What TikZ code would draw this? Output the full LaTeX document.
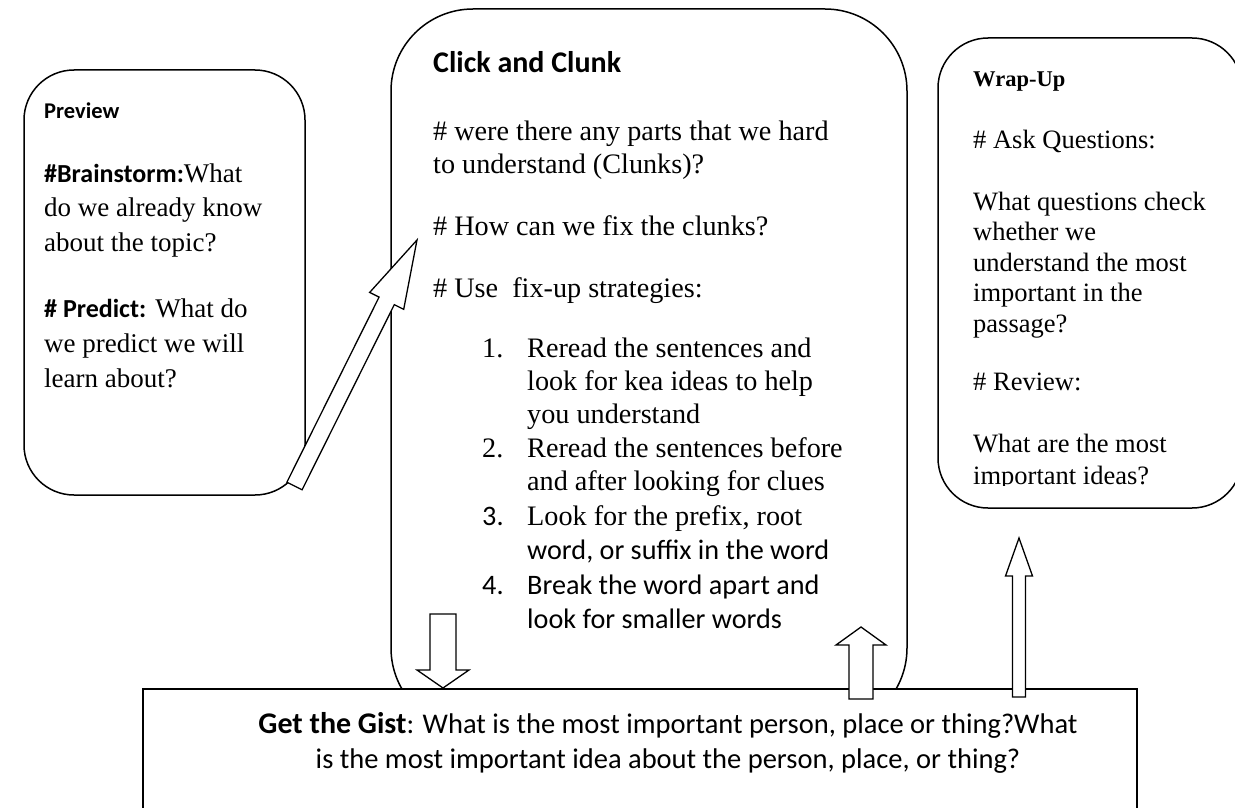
\documentclass[tikz,border=0pt]{standalone}
\usepackage{fontspec}
\setmainfont{Liberation Serif}
\newfontfamily\carl{Carlito}
\usetikzlibrary{calc}

\newcommand\cbf[1]{{\carl\bfseries\fontsize{26}{30}\selectfont #1}}
\newcommand\blockarr[5]{%
  \coordinate (hb) at ($(#2)!#5!(#1)$);
  \draw[barrow] ($(#1)!#3!90:(#2)$) -- ($(hb)!#3!90:(#2)$) -- ($(hb)!#4!90:(#2)$) -- (#2)
    -- ($(hb)!#4!-90:(#2)$) -- ($(hb)!#3!-90:(#2)$) -- ($(#1)!#3!-90:(#2)$) -- cycle;}

\tikzset{
  box/.style={draw, line width=1.5pt, fill=white},
  barrow/.style={draw, line width=1.3pt, fill=white, line join=miter},
  base/.style={anchor=base west, inner sep=0pt},
  pt/.style={base, font=\fontsize{27}{33}\selectfont},
  ct/.style={base, font=\fontsize{28.2}{34}\selectfont},
  cl/.style={base, font=\carl\fontsize{28.2}{34}\selectfont},
  wt/.style={base, font=\fontsize{26.5}{30}\selectfont},
  hd/.style={base, font=\carl\bfseries\fontsize{22.5}{26}\selectfont},
  gt/.style={anchor=base, inner sep=0pt, font=\carl\fontsize{28.5}{30}\selectfont},
}

\begin{document}
\begin{tikzpicture}[x=1pt,y=-1pt]
\useasboundingbox (0,0) rectangle (1235,808);
\fill[white] (0,0) rectangle (1235,808);

% boxes
\draw[box, rounded corners=82pt] (391,9) rectangle (907,730);
\draw[box, rounded corners=50pt] (24,70) rectangle (305,495);
\draw[box, rounded corners=50pt] (938,38) rectangle (1242,508);

% Preview text
\node[hd] (pv0) at (44,118) {Preview};
\node[pt] (pv1) at (44,182) {\cbf{\#Brainstorm:}What};
\node[pt] (pv2) at (44,216) {do we already know};
\node[pt] (pv3) at (44,251) {about the topic?};
\node[pt] (pv4) at (44,317) {\cbf{\# Predict:} What do};
\node[pt] (pv5) at (44,352) {we predict we will};
\node[pt] (pv6) at (44,387) {learn about?};

% Click and Clunk text
\node[base, font=\carl\bfseries\fontsize{30}{34}\selectfont] (cc0) at (433,73) {Click and Clunk};
\node[ct] (cc1) at (433,140) {\# were there any parts that we hard};
\node[ct] (cc2) at (433,173) {to understand (Clunks)?};
\node[ct] (cc3) at (433,235) {\# How can we fix the clunks?};
\node[ct] (cc4) at (433,297) {\# Use\ \ fix-up strategies:};
\node[ct] (n1) at (482,357) {1.};
\node[ct] (l1a) at (527,357) {Reread the sentences and};
\node[ct] (l1b) at (527,390) {look for kea ideas to help};
\node[ct] (l1c) at (527,423) {you understand};
\node[ct] (n2) at (482,457) {2.};
\node[ct] (l2a) at (527,457) {Reread the sentences before};
\node[ct] (l2b) at (527,490) {and after looking for clues};
\node[cl] (n3) at (482,525) {3.};
\node[ct] (l3a) at (527,525) {Look for the prefix, root};
\node[cl] (l3b) at (527,559) {word, or suffix in the word};
\node[cl] (n4) at (482,594) {4.};
\node[cl] (l4a) at (527,594) {Break the word apart and};
\node[cl] (l4b) at (527,628) {look for smaller words};

% Wrap-Up text
\node[base, font=\bfseries\fontsize{22.5}{26}\selectfont] (w0) at (973,87) {Wrap-Up};
\node[wt] (w1) at (973,148) {\# Ask Questions:};
\node[wt] (w2) at (973,210) {What questions check};
\node[wt] (w3) at (973,240) {whether we};
\node[wt] (w4) at (973,271) {understand the most};
\node[wt] (w5) at (973,301) {important in the};
\node[wt] (w6) at (973,332) {passage?};
\node[wt] (w7) at (973,390) {\# Review:};
\node[wt] (w8) at (973,452) {What are the most};
\begin{scope}
  \clip (950,460) rectangle (1230,485);
  \node[wt] (w9) at (973,484) {important ideas?};
\end{scope}

% diagonal block arrow
\coordinate (a1t) at (294.5,486);
\coordinate (a1h) at (417,240);
\blockarr{a1t}{a1h}{8.5pt}{19pt}{68pt}

% Get the Gist box
\draw[box] (143,689) -- (1137,689) -- (1137,830) -- (143,830) -- cycle;
\node[gt] (g1) at (668,733) {{\bfseries\fontsize{30}{30}\selectfont Get the Gist}: What is the most important person, place or thing?What};
\node[gt] (g2) at (668,768) {is the most important idea about the person, place, or thing?};

% vertical block arrows
\coordinate (a2t) at (443,614);
\coordinate (a2h) at (443,688);
\blockarr{a2t}{a2h}{13pt}{26pt}{18pt}
\coordinate (a3t) at (861,699);
\coordinate (a3h) at (861,627);
\blockarr{a3t}{a3h}{12pt}{25pt}{18pt}
\coordinate (a4t) at (1019,697);
\coordinate (a4h) at (1019,538);
\blockarr{a4t}{a4h}{6.5pt}{13.5pt}{38pt}
\end{tikzpicture}
\end{document}
